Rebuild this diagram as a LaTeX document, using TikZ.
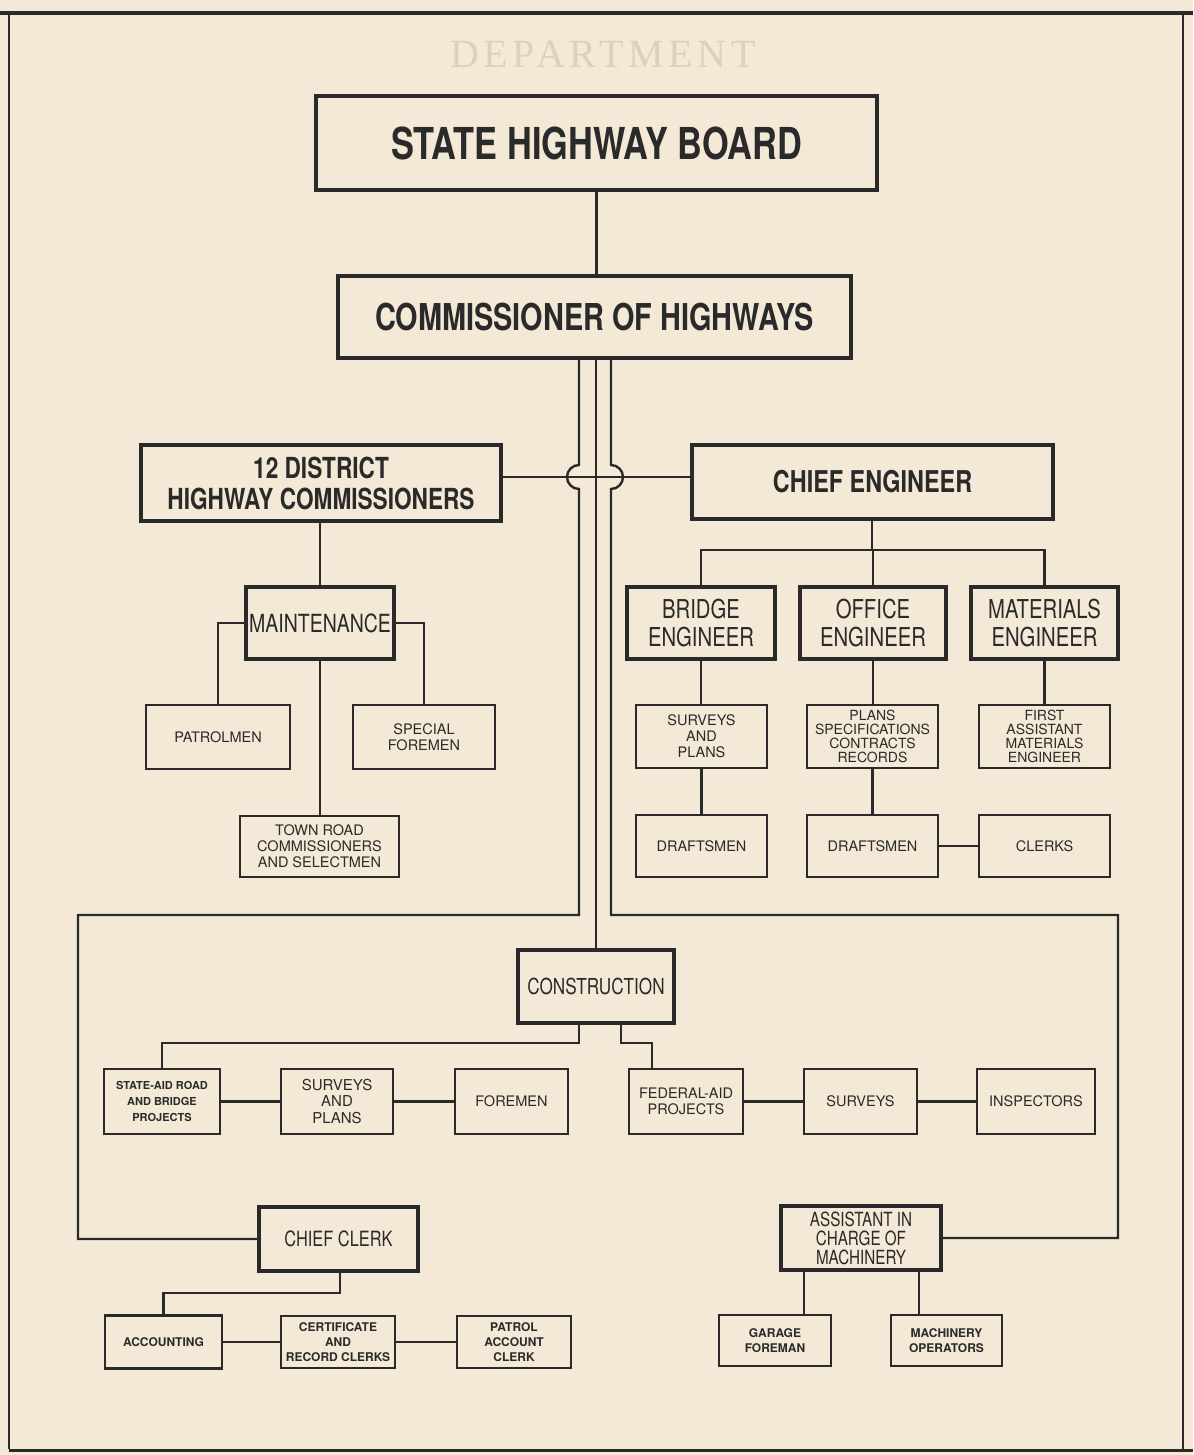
\documentclass[tikz,border=0pt]{standalone}
\usepackage{fontspec}
\setmainfont{TeX Gyre Heros}
\newfontfamily\cnd[FakeStretch=0.78]{TeX Gyre Heros}
\newfontfamily\ghostf[LetterSpace=12]{Liberation Serif}
\usetikzlibrary{calc}
\definecolor{paper}{HTML}{F3E9D6}
\definecolor{ink}{HTML}{2A2A2A}
\definecolor{ghostc}{HTML}{DDD1BD}
\tikzset{
  box/.style={draw=ink, line width=2.6pt, inner sep=0pt, outer sep=0pt, align=center,
    text=ink, anchor=center, font=\fontsize{14.5}{16}\selectfont},
  midbox/.style={box, line width=3.2pt},
  bigbox/.style={box, line width=4.6pt},
  smallb/.style={box, font=\bfseries\fontsize{12}{15}\selectfont},
  conn/.style={draw=ink, line width=2.4pt},
  frame/.style={draw=ink, line width=2pt},
}
\begin{document}
\begin{tikzpicture}[x=1pt,y=-1pt]
\fill[paper] (0,0) rectangle (1193,1455);
\useasboundingbox (0,0) rectangle (1193,1455);
% faint heading
\node[text=ghostc, font=\ghostf\fontsize{40}{40}\selectfont, anchor=base] (gh2) at (603,68) {DEPARTMENT};
% frame
\draw[frame] (9,1449) -- (9,14) -- (1183,14) -- (1183,1449);
\draw[ink, line width=4pt] (0,13) -- (1193,13);
\draw[ink, line width=3pt] (9,1450) -- (1193,1450);

% main boxes
\node[bigbox, minimum width=561pt, minimum height=94pt, font=\cnd\bfseries\fontsize{44}{46}\selectfont] (board) at (596.5,143) {STATE HIGHWAY BOARD};
\node[bigbox, minimum width=513pt, minimum height=82pt, font=\cnd\bfseries\fontsize{37}{40}\selectfont] (comm) at (594.5,317) {COMMISSIONER OF HIGHWAYS};
\node[midbox, minimum width=360pt, minimum height=76pt, font=\cnd\bfseries\fontsize{29}{31}\selectfont] (district) at (321,483) {12 DISTRICT\\HIGHWAY COMMISSIONERS};
\node[midbox, minimum width=361pt, minimum height=74pt, font=\cnd\bfseries\fontsize{30}{32}\selectfont] (chief) at (872.5,482) {CHIEF ENGINEER};

% maintenance branch
\node[midbox, minimum width=148pt, minimum height=72pt, font=\cnd\fontsize{25}{28}\selectfont] (maint) at (320,623) {MAINTENANCE};
\node[box, minimum width=144pt, minimum height=64pt] (patrol) at (218,737) {PATROLMEN};
\node[box, minimum width=142pt, minimum height=64pt] (special) at (424,737) {SPECIAL\\FOREMEN};
\node[box, minimum width=159pt, minimum height=61pt] (town) at (319.5,846.5) {TOWN ROAD\\COMMISSIONERS\\AND SELECTMEN};

% chief engineer branch
\node[midbox, minimum width=148pt, minimum height=72pt, font=\cnd\fontsize{26}{28}\selectfont] (bridge) at (701,623) {BRIDGE\\ENGINEER};
\node[midbox, minimum width=146pt, minimum height=72pt, font=\cnd\fontsize{26}{28}\selectfont] (office) at (873,623) {OFFICE\\ENGINEER};
\node[midbox, minimum width=147pt, minimum height=72pt, font=\cnd\fontsize{26}{28}\selectfont] (materials) at (1044.5,623) {MATERIALS\\ENGINEER};
\node[box, minimum width=131pt, minimum height=63pt] (survplans) at (701.5,736.5) {SURVEYS\\AND\\PLANS};
\node[box, minimum width=131pt, minimum height=63pt, font=\fontsize{14}{14}\selectfont] (plansspec) at (872.5,736.5) {PLANS\\SPECIFICATIONS\\CONTRACTS\\RECORDS};
\node[box, minimum width=131pt, minimum height=63pt, font=\fontsize{14}{14}\selectfont] (firstasst) at (1044.5,736.5) {FIRST\\ASSISTANT\\MATERIALS\\ENGINEER};
\node[box, minimum width=131pt, minimum height=62pt] (draft1) at (701.5,846) {DRAFTSMEN};
\node[box, minimum width=131pt, minimum height=62pt] (draft2) at (872.5,846) {DRAFTSMEN};
\node[box, minimum width=131pt, minimum height=62pt] (clerks) at (1044.5,846) {CLERKS};

% construction
\node[midbox, minimum width=156pt, minimum height=73pt, font=\cnd\fontsize{22}{24}\selectfont] (constr) at (596,986.5) {CONSTRUCTION};
\node[box, minimum width=116pt, minimum height=65pt, font=\bfseries\fontsize{11}{16}\selectfont] (stateaid) at (162,1101.5) {STATE-AID ROAD\\AND BRIDGE\\PROJECTS};
\node[box, minimum width=112pt, minimum height=65pt, font=\fontsize{15}{16.5}\selectfont] (csurv) at (337,1101.5) {SURVEYS\\AND\\PLANS};
\node[box, minimum width=113pt, minimum height=65pt] (foremen) at (511.5,1101.5) {FOREMEN};
\node[box, minimum width=114pt, minimum height=65pt, font=\fontsize{14.5}{16}\selectfont] (federal) at (686,1101.5) {FEDERAL-AID\\PROJECTS};
\node[box, minimum width=113pt, minimum height=65pt] (surveys) at (860.5,1101.5) {SURVEYS};
\node[box, minimum width=118pt, minimum height=65pt] (inspectors) at (1036,1101.5) {INSPECTORS};

% chief clerk and machinery
\node[midbox, minimum width=159pt, minimum height=64pt, font=\cnd\fontsize{21}{23}\selectfont] (chiefclerk) at (338.5,1239) {CHIEF CLERK};
\node[midbox, minimum width=160pt, minimum height=64pt, font=\cnd\fontsize{19.5}{19}\selectfont] (assistant) at (861,1238) {ASSISTANT IN\\CHARGE OF\\MACHINERY};
\node[smallb, minimum width=117pt, minimum height=53pt] (accounting) at (163.5,1342) {ACCOUNTING};
\node[smallb, minimum width=114pt, minimum height=52pt] (certificate) at (338,1342) {CERTIFICATE\\AND\\RECORD CLERKS};
\node[smallb, minimum width=114pt, minimum height=52pt] (patrolacct) at (514,1342) {PATROL\\ACCOUNT\\CLERK};
\node[smallb, minimum width=112pt, minimum height=51pt] (garage) at (775,1340.5) {GARAGE\\FOREMAN};
\node[smallb, minimum width=111pt, minimum height=51pt] (machops) at (946.5,1340.5) {MACHINERY\\OPERATORS};

% helper coordinates
\coordinate (hl) at (596,477);
\coordinate (ceb) at (872,550);
\coordinate (lx) at (579,915);
\coordinate (rx) at (611,915);
\coordinate (lcorner) at (78,915);
\coordinate (rcorner) at (1118,915);
\coordinate (cbl) at (579,1043);
\coordinate (cbr) at (621,1043);
\coordinate (fedtop) at (652,1069);
\coordinate (ccb) at (340,1293);
\coordinate (gtop) at (804,1315);
\coordinate (mtop) at (919,1315);

% connectors
\draw[conn] (board.south) -- (board.south |- comm.north);
\draw[conn] (constr.north |- comm.south) -- (constr.north);
\draw[conn] (district.east |- hl) -- (chief.west |- hl);
% left outer line with hop (to chief clerk)
\draw[conn] (lx |- comm.south) -- (579,465)
  .. controls (572.4,465) and (567,470.4) .. (567,477)
  .. controls (567,483.6) and (572.4,489) .. (579,489)
  -- (lx) -- (lcorner) |- (chiefclerk.west);
% right outer line with hop (to machinery)
\draw[conn] (rx |- comm.south) -- (611,465)
  .. controls (617.6,465) and (623,470.4) .. (623,477)
  .. controls (623,483.6) and (617.6,489) .. (611,489)
  -- (rx) -- (rcorner) |- (assistant.east);

% maintenance
\draw[conn] (maint.north |- district.south) -- (maint.north);
\draw[conn] (maint.west) -| (patrol.north);
\draw[conn] (maint.east) -| (special.north);
\draw[conn] (maint.south) -- (maint.south |- town.north);

% chief engineer
\draw[conn] (chief.south -| ceb) -- (ceb);
\draw[conn] (bridge.north) |- (ceb) -| (materials.north);
\draw[conn] (office.north |- ceb) -- (office.north);
\draw[conn] (bridge.south) -- (bridge.south |- survplans.north);
\draw[conn] (survplans.south) -- (survplans.south |- draft1.north);
\draw[conn] (office.south) -- (office.south |- plansspec.north);
\draw[conn] (plansspec.south) -- (plansspec.south |- draft2.north);
\draw[conn] (materials.south) -- (materials.south |- firstasst.north);
\draw[conn] (draft2.east) -- (clerks.west);

% construction
\draw[conn] (cbl |- constr.south) -- (cbl) -| (stateaid.north);
\draw[conn] (cbr |- constr.south) -- (cbr) -| (fedtop);
\draw[conn] (stateaid.east) -- (csurv.west);
\draw[conn] (csurv.east) -- (foremen.west);
\draw[conn] (federal.east) -- (surveys.west);
\draw[conn] (surveys.east) -- (inspectors.west);

% chief clerk
\draw[conn] (ccb |- chiefclerk.south) -- (ccb) -| (accounting.north);
\draw[conn] (accounting.east) -- (certificate.west);
\draw[conn] (certificate.east) -- (patrolacct.west);

% machinery
\draw[conn] (gtop |- assistant.south) -- (gtop);
\draw[conn] (mtop |- assistant.south) -- (mtop);
\end{tikzpicture}
\end{document}
